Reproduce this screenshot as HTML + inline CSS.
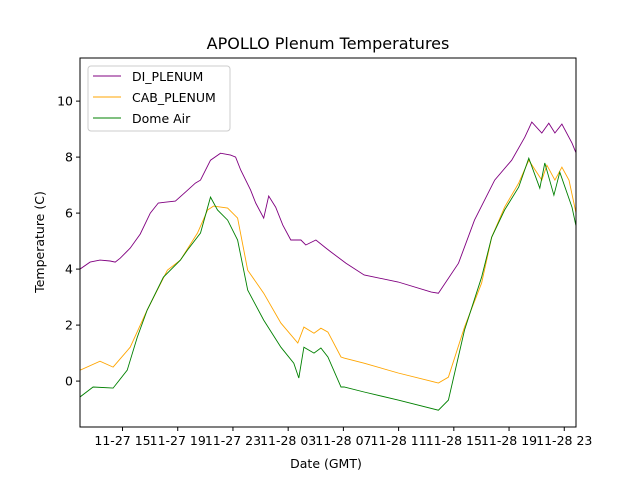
<!DOCTYPE html>
<html><head><meta charset="utf-8"><style>
body{margin:0;background:#fff}
svg{display:block;font-family:"DejaVu Sans","Liberation Sans",sans-serif}
</style></head><body>
<svg id="chart" width="640" height="480">
<rect width="640" height="480" fill="#fff"/>
<text x="328" y="49" font-size="16" text-anchor="middle">APOLLO Plenum Temperatures</text>
<g id="plot"></g>
<g id="axes"></g>
<text x="326" y="468" font-size="12.5" text-anchor="middle">Date (GMT)</text>
<text transform="translate(44,242) rotate(-90)" font-size="12.5" text-anchor="middle">Temperature (C)</text>
<g>
<rect x="88" y="66" width="142" height="65" rx="3" fill="#fff" stroke="#ccc"/>
<g><line x1="93" y1="76" x2="121" y2="76" stroke="purple"/><text x="132" y="81" font-size="12.5">DI_PLENUM</text></g>
<g><line x1="93" y1="97" x2="121" y2="97" stroke="orange"/><text x="132" y="102" font-size="12.5">CAB_PLENUM</text></g>
<g><line x1="93" y1="118" x2="121" y2="118" stroke="green"/><text x="132" y="123" font-size="12.5">Dome Air</text></g>
</g>
</svg>
<script>
// hours since 11-27 00:00 GMT
const diHours=[11.92,12.65,13.37,14.1,14.47,14.83,15.56,16.28,17.01,17.59,18.1,18.83,19.56,20.28,20.65,21.37,22.1,22.83,23.19,23.56,24.28,24.65,25.23,25.59,26.1,26.61,27.19,27.92,28.28,29.01,29.74,30.1,31.19,32.5,34.97,37.37,37.88,39.34,40.5,41.96,43.19,44.14,44.65,45.37,45.88,46.32,46.83,47.56,48.07];
const diTemps=[4.0,4.25,4.32,4.29,4.25,4.39,4.75,5.25,6.0,6.36,6.39,6.43,6.75,7.07,7.18,7.89,8.14,8.07,8.0,7.54,6.82,6.36,5.82,6.61,6.21,5.57,5.04,5.04,4.86,5.04,4.75,4.61,4.21,3.79,3.54,3.18,3.14,4.21,5.75,7.18,7.89,8.71,9.25,8.86,9.21,8.86,9.18,8.5,7.89];
const cabHours=[11.92,13.37,14.32,15.56,16.79,18.25,19.19,20.43,21.16,21.59,22.61,23.34,24.07,25.23,26.47,27.7,28.14,28.87,29.37,29.88,30.83,31.05,32.5,34.97,37.88,38.61,39.77,41.01,41.74,42.68,43.7,44.43,45.37,45.74,46.32,46.83,47.34,48.07];
const cabTemps=[0.39,0.71,0.5,1.21,2.54,3.96,4.32,5.29,6.11,6.25,6.18,5.82,3.96,3.14,2.07,1.36,1.93,1.71,1.89,1.75,0.86,0.82,0.64,0.29,-0.07,0.14,1.93,3.5,5.14,6.21,7.07,7.89,7.18,7.71,7.18,7.64,7.18,5.5];
const domeHours=[11.92,12.87,14.32,15.34,16.07,16.79,17.96,19.19,19.7,20.65,21.37,21.88,22.61,23.34,24.07,25.23,26.47,27.41,27.77,28.14,28.87,29.37,29.88,30.83,31.05,32.5,34.97,37.88,38.61,39.77,41.01,41.74,42.68,43.7,44.43,45.23,45.59,46.25,46.68,47.56,48.07];
const domeTemps=[-0.57,-0.21,-0.25,0.39,1.57,2.54,3.71,4.32,4.68,5.29,6.57,6.11,5.75,5.04,3.25,2.18,1.21,0.64,0.11,1.21,1.0,1.18,0.86,-0.21,-0.21,-0.39,-0.68,-1.04,-0.68,1.82,3.71,5.14,6.11,6.93,7.96,6.89,7.79,6.64,7.46,6.21,5.04];
const xTickHours=[15,19,23,27,31,35,39,43,47];
const xTickLabels=["11-27 15","11-27 19","11-27 23","11-28 03","11-28 07","11-28 11","11-28 15","11-28 19","11-28 23"];
const yTicks=[0,2,4,6,8,10];

const L=80,R=576,T=58,B=427;
const X0=11.92,X1=47.85,Y0=-1.64,Y1=11.54;
const sx=h=>L+(h-X0)/(X1-X0)*(R-L);
const sy=v=>B-(v-Y0)/(Y1-Y0)*(B-T);
const NS="http://www.w3.org/2000/svg";
const svg=document.getElementById('chart');
const plot=document.getElementById('plot');
const axes=document.getElementById('axes');
const defs=document.createElementNS(NS,'defs');
defs.innerHTML='<clipPath id="clp"><rect x="80" y="58" width="496" height="369"/></clipPath>';
svg.insertBefore(defs,svg.firstChild);
plot.setAttribute('clip-path','url(#clp)');
function series(hs,vs,color,name){
  const p=document.createElementNS(NS,'polyline');
  p.setAttribute('points',hs.map((h,i)=>sx(h).toFixed(1)+','+sy(vs[i]).toFixed(1)).join(' '));
  p.setAttribute('fill','none');p.setAttribute('stroke',color);p.setAttribute('stroke-width','0.9');
  
  
  plot.appendChild(p);
}
series(diHours,diTemps,'purple','di-plenum-line');
series(cabHours,cabTemps,'orange','cab-plenum-line');
series(domeHours,domeTemps,'green','dome-air-line');
const frame=document.createElementNS(NS,'rect');
frame.setAttribute('x',L);frame.setAttribute('y',T);frame.setAttribute('width',R-L);frame.setAttribute('height',B-T);
frame.setAttribute('fill','none');frame.setAttribute('stroke','#000');frame.setAttribute('stroke-width','1');


axes.appendChild(frame);
xTickHours.forEach((h,i)=>{
  const x=sx(h);
  const t=document.createElementNS(NS,'line');
  t.setAttribute('x1',x);t.setAttribute('x2',x);t.setAttribute('y1',B);t.setAttribute('y2',B+4);t.setAttribute('stroke','#000');
  
  
  axes.appendChild(t);
  const tx=document.createElementNS(NS,'text');
  tx.setAttribute('x',x);tx.setAttribute('y',B+18);tx.setAttribute('font-size','12.5');tx.setAttribute('text-anchor','middle');
  tx.textContent=xTickLabels[i];
  
  
  axes.appendChild(tx);
});
yTicks.forEach(v=>{
  const y=sy(v);
  const t=document.createElementNS(NS,'line');
  t.setAttribute('x1',L-4);t.setAttribute('x2',L);t.setAttribute('y1',y);t.setAttribute('y2',y);t.setAttribute('stroke','#000');
  
  
  axes.appendChild(t);
  const tx=document.createElementNS(NS,'text');
  tx.setAttribute('x',L-7);tx.setAttribute('y',y+4.5);tx.setAttribute('font-size','12.5');tx.setAttribute('text-anchor','end');
  tx.textContent=v;
  
  
  axes.appendChild(tx);
});
</script>
</body></html>
